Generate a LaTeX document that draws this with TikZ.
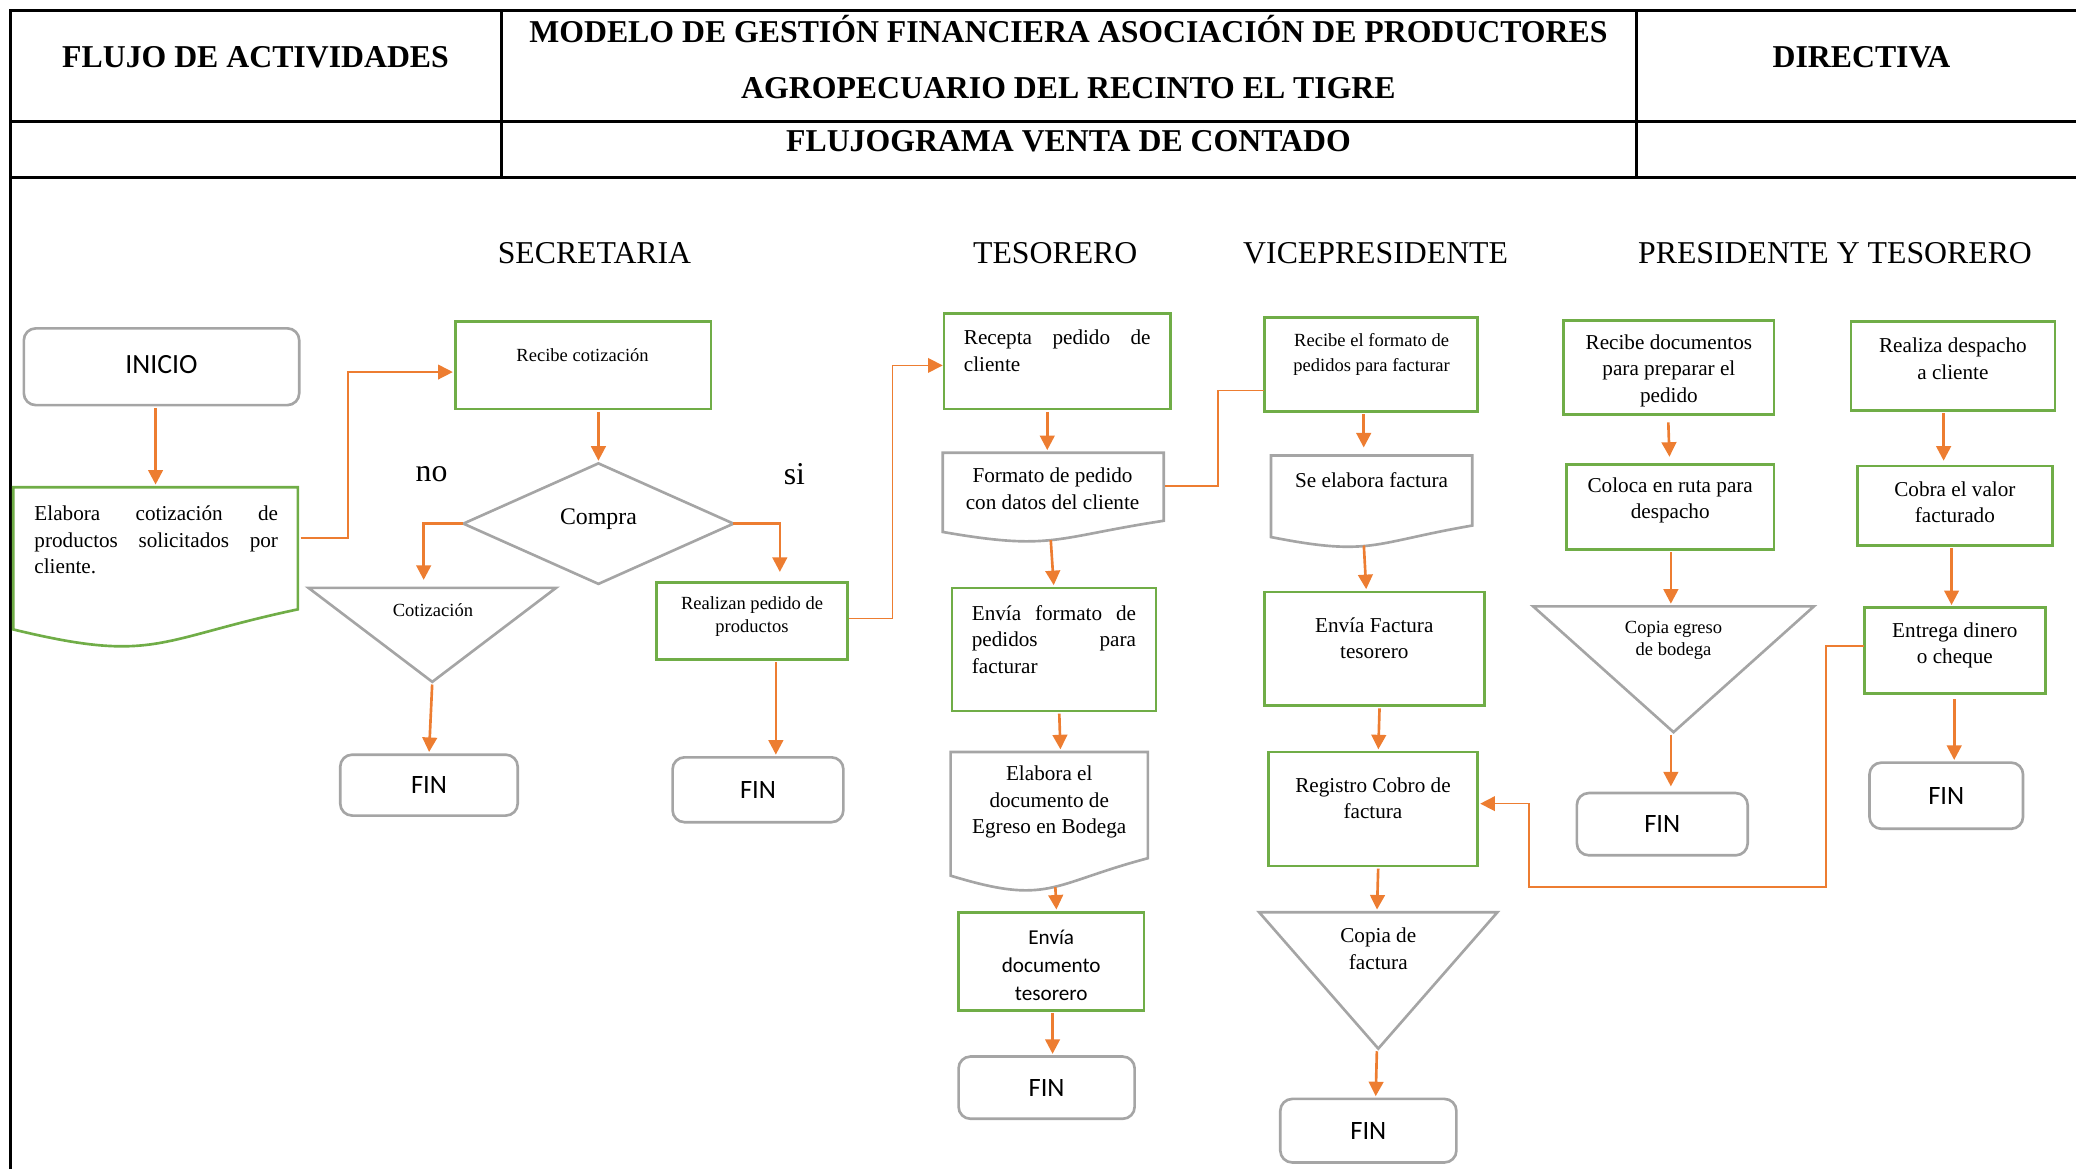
\documentclass[tikz,border=0pt]{standalone}
\usepackage{fontspec}
\setmainfont{Liberation Serif}
\newfontfamily\calib{Carlito}
\usetikzlibrary{arrows.meta,calc}
\definecolor{flowgreen}{HTML}{70AD47}
\definecolor{flowgray}{HTML}{A5A5A5}
\definecolor{floworange}{HTML}{ED7D31}

% document symbol (wavy bottom) drawn over the bounding node #2
\newcommand\drawdoc[2]{%
  \draw[#1] (#2.north west) -- (#2.north east)
    -- ($(#2.north east)!0.802!(#2.south east)$)
    .. controls (#2.south) and ($(#2.north)!1.161!(#2.south)$)
    .. ($(#2.north west)!0.934!(#2.south west)$) -- cycle;}
% inverted triangle (archive symbol)
\newcommand\drawtri[2]{%
  \draw[#1] (#2.north west) -- (#2.north east) -- (#2.south) -- cycle;}
% decision diamond
\newcommand\drawdiam[2]{%
  \draw[#1] (#2.west) -- (#2.north) -- (#2.east) -- (#2.south) -- cycle;}

\begin{document}
\begin{tikzpicture}[x=1pt,y=-1pt,
  sz/.style 2 args={minimum width=#1pt,minimum height=#2pt},
  frame/.style={draw=black,line width=2pt},
  gbox/.style={draw=flowgreen,line width=2pt,inner sep=0pt,outer sep=0pt},
  term/.style={draw=flowgray,line width=2pt,rounded corners=9pt,inner sep=0pt,outer sep=0pt,
    font=\calib\fontsize{20}{24}\selectfont},
  bound/.style={inner sep=0pt,outer sep=0pt},
  gline/.style={draw=flowgray,line width=2pt,line join=miter},
  gdoc/.style={draw=flowgreen,line width=2pt,line join=miter},
  conn/.style={draw=floworange,line width=1.2pt},
  tip/.style={-{Triangle[width=11pt,length=11pt]}},
  arr/.style={draw=floworange,line width=2pt,tip,shorten <=2pt,shorten >=2pt},
  txt/.style={inner sep=0pt,align=center,font=\fontsize{16}{20}\selectfont},
  stxt/.style={inner sep=0pt,align=center,font=\fontsize{14}{17}\selectfont},
  head/.style={inner sep=0pt,align=center,font=\bfseries\fontsize{24}{42}\selectfont},
  lane/.style={inner sep=0pt,font=\fontsize{24}{28}\selectfont}
]
\useasboundingbox (0,0) rectangle (1568,883);

% ---------- header table ----------
\draw[frame] (8,883) -- (8,8) -- (1568,8);
\draw[frame] (8,92) -- (1568,92);
\draw[frame] (8,134) -- (1568,134);
\draw[frame] (379,8) -- (379,134);
\draw[frame] (1236,8) -- (1236,134);
\node[head] (h-flujo) at (193,43) {FLUJO DE ACTIVIDADES};
\node[head] (h-modelo) at (807,43) {MODELO DE GESTIÓN FINANCIERA ASOCIACIÓN DE PRODUCTORES\\AGROPECUARIO DEL RECINTO EL TIGRE};
\node[head] (h-dir) at (1406,43) {DIRECTIVA};
\node[head] (h-venta) at (807,107) {FLUJOGRAMA VENTA DE CONTADO};

% ---------- lane titles ----------
\node[lane] (l-sec) at (449,191) {SECRETARIA};
\node[lane] (l-tes) at (797,191) {TESORERO};
\node[lane] (l-vic) at (1039,191) {VICEPRESIDENTE};
\node[lane] (l-pre) at (1386,191) {PRESIDENTE Y TESORERO};

% ---------- SECRETARIA ----------
\node[term,sz={208}{58},font=\calib\fontsize{21}{24}\selectfont] (inicio) at (122,277) {\raisebox{3pt}{INICIO}};
\node[bound,sz={215}{115}] (elab) at (117.5,425.5) {};
\drawdoc{gdoc}{elab}
\node[txt,text width=184pt,align=left] (elab-t) at (118,408)
  {Elabora\hfill cotización\hfill de\\productos\hfill solicitados\hfill por\\cliente.};
\node[gbox,sz={193}{66}] (recot) at (440.5,276) {};
\node[stxt] (recot-t) at (440,268) {Recibe cotización};
\node[bound,sz={204}{91}] (compra) at (452,395.5) {};
\drawdiam{gline}{compra}
\node[inner sep=0pt,font=\fontsize{18}{22}\selectfont] (compra-t) at (452,392) {Compra};
\node[lane] (no) at (326,358) {no};
\node[lane] (si) at (600,358) {si};
\node[bound,sz={187}{71}] (cotiz) at (326.5,479.5) {};
\drawtri{gline}{cotiz}
\node[stxt] (cotiz-t) at (327,461) {Cotización};
\node[term,sz={134}{46}] (fin1) at (324,593) {FIN};
\node[gbox,sz={144}{58}] (realizan) at (568,469) {};
\node[stxt] (realizan-t) at (568,465.5) {Realizan pedido de\\productos};
\node[term,sz={129}{49}] (fin2) at (572.5,596.5) {FIN};

% ---------- TESORERO ----------
\node[gbox,sz={171}{72}] (recepta) at (798.5,273) {};
\node[txt,text width=141pt,align=left] (recepta-t) at (798.5,265)
  {Recepta\hfill pedido\hfill de\\cliente};
\node[bound,sz={167}{64}] (fmt) at (795.5,374) {};
\drawdoc{gline}{fmt}
\node[txt] (fmt-t) at (795,369) {Formato de pedido\\con datos del cliente};
\node[gbox,sz={154}{93}] (envfmt) at (796,490.5) {};
\node[txt,text width=124pt,align=left] (envfmt-t) at (796,483)
  {Envía\hfill formato\hfill de\\pedidos\hfill para\\facturar};
\node[bound,sz={149}{100}] (egreso) at (792.5,618) {};
\drawdoc{gline}{egreso}
\node[txt] (egreso-t) at (792.5,606) {Elabora el\\documento de\\Egreso en Bodega};
\node[gbox,sz={140}{74}] (envdoc) at (794,726) {};
\node[inner sep=0pt,align=center,font=\calib\fontsize{16}{21}\selectfont] (envdoc-t) at (794,729)
  {Envía\\documento\\tesorero};
\node[term,sz={133}{47}] (fin3) at (790.5,821.5) {FIN};

% ---------- VICEPRESIDENTE ----------
\node[gbox,sz={161}{71}] (recfmt) at (1035.5,275.5) {};
\node[stxt,font=\fontsize{14}{19}\selectfont] (recfmt-t) at (1036,267.5)
  {Recibe el formato de\\pedidos para facturar};
\node[bound,sz={152}{66}] (sefact) at (1036,377) {};
\drawdoc{gline}{sefact}
\node[txt] (sefact-t) at (1036,363) {Se elabora factura};
\node[gbox,sz={166}{86}] (envfact) at (1038,490) {};
\node[txt] (envfact-t) at (1038,482) {Envía Factura\\tesorero};
\node[gbox,sz={158}{86}] (registro) at (1037,611) {};
\node[txt] (registro-t) at (1037,603) {Registro Cobro de\\factura};
\node[bound,sz={180}{103}] (copiaf) at (1041,740.5) {};
\drawtri{gline}{copiaf}
\node[txt] (copiaf-t) at (1041,716.5) {Copia de\\factura};
\node[term,sz={133}{48}] (fin4) at (1033.5,854) {FIN};

% ---------- PRESIDENTE Y TESORERO ----------
\node[gbox,sz={159}{71}] (recdoc) at (1260.5,277.5) {};
\node[txt] (recdoc-t) at (1260.5,280) {Recibe documentos\\para preparar el\\pedido};
\node[gbox,sz={157}{64}] (coloca) at (1261.5,383) {};
\node[txt] (coloca-t) at (1261.5,378) {Coloca en ruta para\\despacho};
\node[bound,sz={212}{95}] (copiae) at (1264,505.5) {};
\drawtri{gline}{copiae}
\node[stxt] (copiae-t) at (1264,483.5) {Copia egreso\\de bodega};
\node[term,sz={129}{47}] (fin5) at (1255.5,622.5) {FIN};
\node[gbox,sz={154}{67}] (realiza) at (1475,276.5) {};
\node[txt] (realiza-t) at (1475,271) {Realiza despacho\\a cliente};
\node[gbox,sz={147}{60}] (cobra) at (1476.5,382) {};
\node[txt] (cobra-t) at (1476.5,379.5) {Cobra el valor\\facturado};
\node[gbox,sz={137}{65}] (entrega) at (1476.5,491.5) {};
\node[txt] (entrega-t) at (1476.5,487.5) {Entrega dinero\\o cheque};
\node[term,sz={116}{50}] (fin6) at (1470,601) {FIN};

% ---------- connectors ----------
\draw[arr] (inicio.south -| elab.north) -- (elab.north);
\draw[conn,tip] ($(elab.east)+(2,-19)$) -- ++(36,0) |- ($(recot.west)+(-2,5)$);
\draw[arr] (recot.south -| compra.north) -- (compra.north);
\draw[arr,shorten <=0pt] (compra.west) -| ($(cotiz.north)+(-6.5,-4)$);
\draw[arr] (cotiz.south) -- (fin1.north);
\draw[arr,shorten <=0pt] (compra.east) -| ($(realizan.north)+(21,-6)$);
\draw[arr] ($(realizan.south)+(18,0)$) -- ($(fin2.north)+(13.5,0)$);
\draw[conn,tip] ($(realizan.east)+(1,-2)$) -- ++(33,0) |- ($(recepta.west)+(-1,3)$);

\draw[arr] ($(recepta.south)+(-7.5,0)$) -- ($(fmt.north)+(-4.5,0)$);
\draw[conn] ($(fmt.east)+(1,-7)$) -- ++(40,0) |- ($(recfmt.west)+(0,19.5)$);
\draw[arr] ($(fmt.south)+(-2,0)$) -- (envfmt.north);
\draw[arr] ($(envfmt.south)+(4,0)$) -- ($(egreso.north)+(8.5,0)$);
\draw[arr] ($(egreso.south)+(4.5,0)$) -- ($(envdoc.north)+(4,0)$);
\draw[arr] ($(envdoc.south)+(1,0)$) -- ($(fin3.north)+(4.5,0)$);

\draw[arr] ($(recfmt.south)+(-5.5,0)$) -- ($(sefact.north)+(-6,-4)$);
\draw[arr] ($(sefact.south)+(-6,0)$) -- ($(envfact.north)+(-6,0)$);
\draw[arr] ($(envfact.south)+(4,0)$) -- ($(registro.north)+(4,0)$);
\draw[arr] ($(registro.south)+(4,0)$) -- ($(copiaf.north)+(-1,0)$);
\draw[arr] ($(copiaf.south)+(-1,0)$) -- ($(fin4.north)+(5.5,0)$);

\draw[arr] ($(recdoc.south)+(-0.5,4)$) -- ($(coloca.north)+(-0.5,-4)$);
\draw[arr] ($(coloca.south)+(0.5,0)$) -- ($(copiae.north)+(-2,0)$);
\draw[arr] ($(copiae.south)+(-2,0)$) -- ($(fin5.north)+(6.5,-3)$);
\draw[arr] ($(realiza.south)+(-7,0)$) -- ($(cobra.north)+(-8.5,-2)$);
\draw[arr] ($(cobra.south)+(-2.5,0)$) -- ($(entrega.north)+(-2.5,0)$);
\draw[arr] ($(entrega.south)+(-0.5,2)$) -- ($(fin6.north)+(6,0)$);
\draw[conn,tip] ($(entrega.west)+(0,-3.5)$) -- ++(-29,0) -- ++(0,182)
  -| ($(registro.east)+(39,-4)$) -- ($(registro.east)+(2,-4)$);
\end{tikzpicture}
\end{document}
